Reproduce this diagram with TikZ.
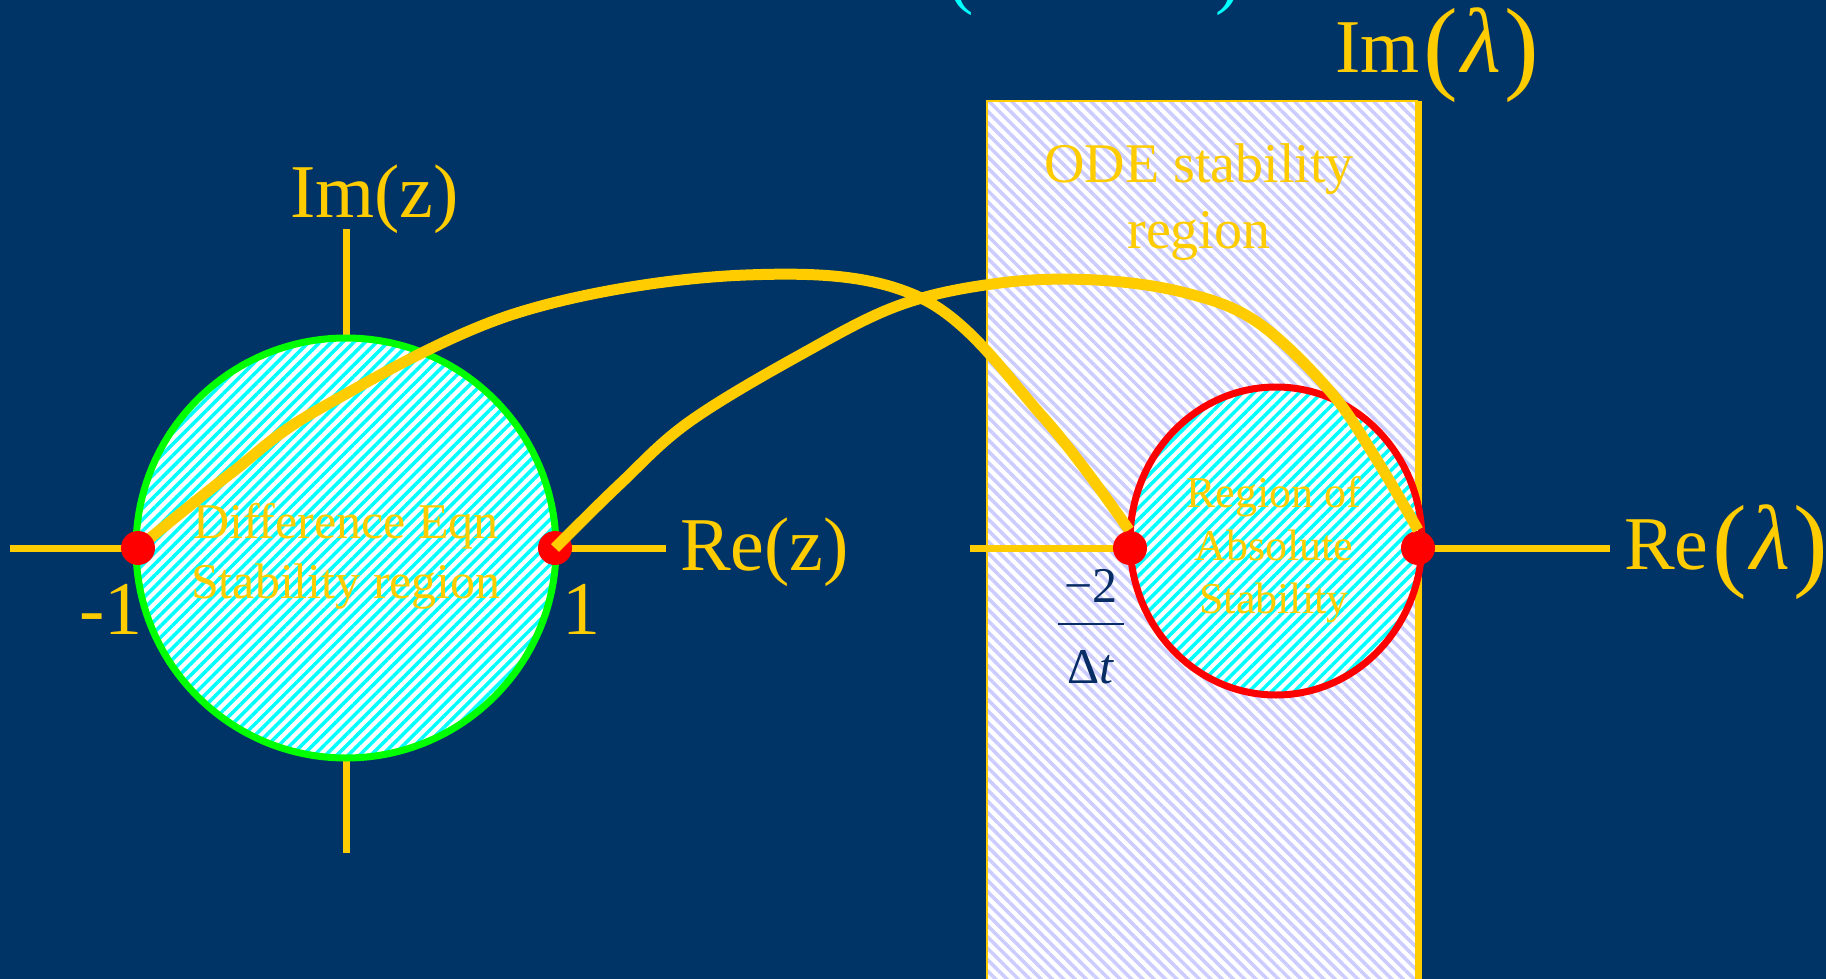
\documentclass[tikz,border=0pt]{standalone}
\usepackage{fontspec}
\setmainfont{Liberation Serif}
\usetikzlibrary{patterns.meta}

\definecolor{slidebg}{RGB}{0,51,102}
\definecolor{gold}{RGB}{255,204,0}
\definecolor{hatchcyan}{RGB}{0,255,255}
\definecolor{hatchlav}{RGB}{204,204,255}
\definecolor{ringgreen}{RGB}{0,255,0}
\definecolor{fracnavy}{RGB}{8,44,100}

\newcommand{\tallopen}{\raisebox{-8pt}{\fontsize{104}{104}\selectfont(}}
\newcommand{\tallclose}{\raisebox{-8pt}{\fontsize{104}{104}\selectfont)}}
\newcommand{\biglam}{{\fontsize{92}{92}\selectfont\textit{λ}}}

\tikzset{
  axisline/.style={gold, line width=7pt},
  mapcurve/.style={gold, line width=11pt},
  pole/.style={circle, fill=red, inner sep=0pt, minimum size=34pt},
  zdisk/.style={preaction={fill=white}, pattern={Lines[angle=45,distance=8pt,line width=3.5pt]},
    pattern color=hatchcyan, draw=ringgreen, line width=7pt},
  ldisk/.style={preaction={fill=white}, pattern={Lines[angle=45,distance=8pt,line width=3.5pt]},
    pattern color=hatchcyan, draw=red, line width=7pt},
  odebox/.style={preaction={fill=white}, pattern={Lines[angle=-45,distance=8pt,line width=3.5pt]},
    pattern color=hatchlav},
  axislabel/.style={text=gold, inner sep=0pt, font=\fontsize{76}{80}\selectfont},
  regiontext/.style={text=gold, inner sep=0pt, align=center},
}

\begin{document}
\begin{tikzpicture}[x=1pt,y=-1pt]
\useasboundingbox (0,0) rectangle (1826,979);
\fill[slidebg] (0,0) rectangle (1826,979);
% heading, cut off by the frame
\node[text=hatchcyan, inner sep=0pt, font=\fontsize{76}{80}\selectfont, anchor=base west] (heading) at (948,0) {(\hspace{242pt})};

% z plane
\draw[axisline] (10,548) -- (666,548);
\draw[axisline] (346,229) -- (346,853);
\coordinate (zc) at (346,548);
\path[zdisk] (zc) circle (210pt);
\node[regiontext, font=\fontsize{50}{60}\selectfont] (zregion) at (346,556) {Difference Eqn\\Stability region};
\node[axislabel, anchor=base west] (imz) at (290,217) {Im(z)};
\node[axislabel, anchor=base west] (rez) at (680,570) {Re(z)};
\node[axislabel, anchor=base east] (mone) at (143,634) {-1};
\node[axislabel, anchor=base west] (one) at (562,634) {1};

% lambda plane
\path[odebox] (987,101) rectangle (1418,985);
\draw[gold, line width=2.5pt] (987,985) -- (987,101) -- (1418,101);
\draw[axisline] (970,548) -- (1610,548);
\draw[axisline] (1418,101) -- (1418,985);
\coordinate (lc) at (1276,541);
\path[ldisk] (lc) ellipse (146pt and 154pt);
\node[regiontext, font=\fontsize{56}{66}\selectfont] (oderegion) at (1199,202) {ODE stability\\region};
\node[regiontext, font=\fontsize{44}{53}\selectfont] (absregion) at (1274,550) {Region of\\Absolute\\Stability};
\node[axislabel, anchor=base west] (iml) at (1335,73) {Im\hspace{4pt}\tallopen\hspace{3pt}\biglam\hspace{3pt}\tallclose};
\node[axislabel, anchor=base west] (rel) at (1624,569) {Re\hspace{4pt}\tallopen\hspace{3pt}\biglam\hspace{3pt}\tallclose};
\node[text=fracnavy, inner sep=0pt, font=\fontsize{50}{54}\selectfont] (dt) at (1091,632)
  {\setlength{\arrayrulewidth}{2.5pt}\setlength{\tabcolsep}{6pt}%
   \begin{tabular}{c}−2\rule[-20pt]{0pt}{20pt}\\\hline\rule{0pt}{58pt}Δ\textit{t}\end{tabular}};

% mapping z = 1 + lambda dt
\coordinate (zm) at (138,548);
\coordinate (zp) at (555,548);
\coordinate (lm) at (1130,548);
\coordinate (lz) at (1418,548);
\draw[mapcurve] plot[smooth, tension=0.6] coordinates {(zm) (230,474) (321,408) (517,313) (746,275)
  (921,298) (1043,417) (1129,530)};
\node[pole] (zmdot) at (zm) {};
\node[pole] (zpdot) at (zp) {};
\node[pole] (lmdot) at (lm) {};
\node[pole] (lzdot) at (lz) {};
\draw[mapcurve] plot[smooth, tension=0.6] coordinates {(zp) (620,484) (689,422) (800,355) (900,305)
  (1000,283) (1096,280) (1186,293) (1257,322) (1329,390) (1375,457) (1418,530)};
\end{tikzpicture}
\end{document}
